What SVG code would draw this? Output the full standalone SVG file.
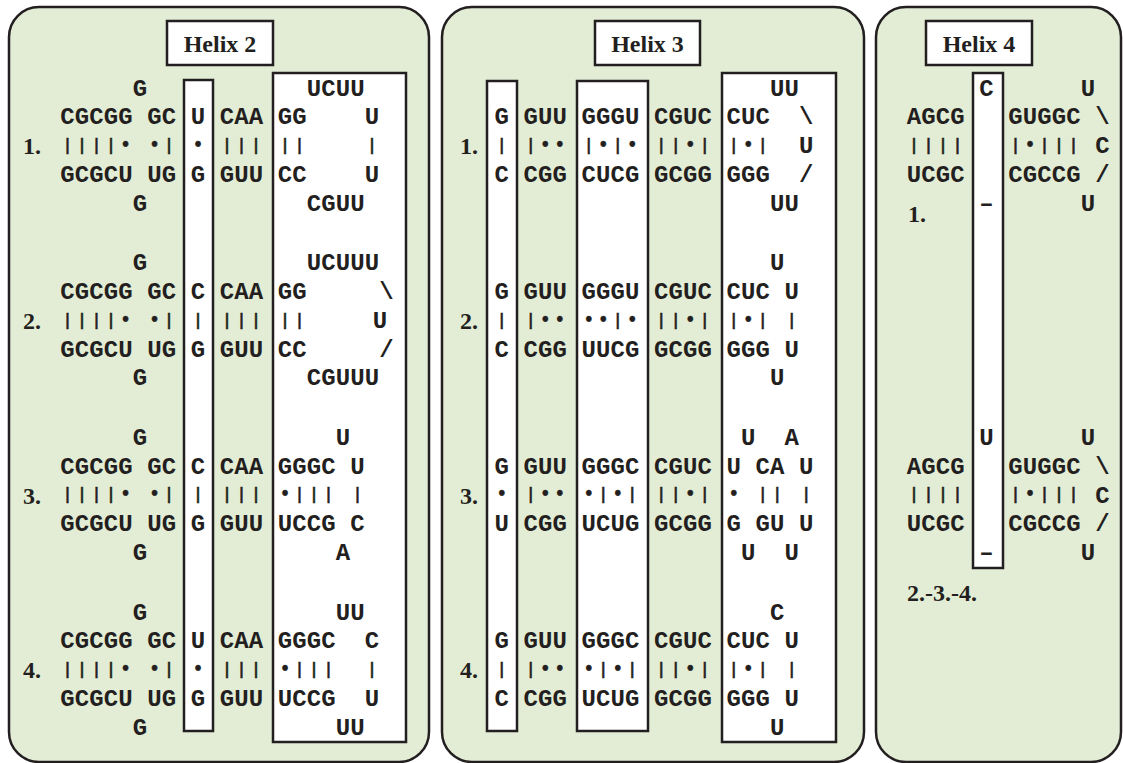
<svg xmlns="http://www.w3.org/2000/svg" width="1123" height="763" viewBox="0 0 1123 763">
<style>
.panel{fill:#e3edd5;stroke:#231f20;stroke-width:2.5}
.box{fill:#fff;stroke:#231f20;stroke-width:2.5}
.t{font-family:"Liberation Mono","DejaVu Sans Mono",monospace;font-weight:bold;font-size:24px;letter-spacing:0.1px;fill:#231f20}
.p{font-family:"DejaVu Sans","Liberation Sans",sans-serif;font-weight:bold;font-size:15px;text-anchor:middle;fill:#231f20;stroke:#231f20;stroke-width:0.5}
.s{font-family:"Liberation Serif","Times New Roman",serif;font-weight:bold;font-size:24px;fill:#231f20}
.h{text-anchor:middle}
</style>
<rect width="1123" height="763" fill="#fff"/>
<g id="connectors"/>

<g id="panel-helix2">
<rect class="panel" x="9" y="7" width="420" height="755" rx="30"/>
<rect class="box" x="167" y="21" width="106" height="44"/>
<text class="s h" x="220" y="52">Helix 2</text>
<rect class="box" x="184" y="80" width="29" height="651"/>
<rect class="box" x="273" y="73" width="133" height="669"/>
<g id="h2-b1">
<text class="t" x="132.75" y="95.5">G</text><text class="t" x="306.75" y="95.5">UCUU</text>
<text class="t" x="60.25" y="124.3">CGCGG</text><text class="t" x="147.25" y="124.3">GC</text><text class="t" x="190.75" y="124.3">U</text><text class="t" x="219.75" y="124.3">CAA</text><text class="t" x="277.75" y="124.3">GG</text><text class="t" x="364.75" y="124.3">U</text>
<text class="s" x="23" y="154.1">1.</text>
<text class="p" x="67.5 82 96.5 111 125.5 154.5 169 198 227 241.5 256 285 299.5 372" y="149.9">||||••|•||||||</text>
<text class="t" x="60.25" y="181.9">GCGCU</text><text class="t" x="147.25" y="181.9">UG</text><text class="t" x="190.75" y="181.9">G</text><text class="t" x="219.75" y="181.9">GUU</text><text class="t" x="277.75" y="181.9">CC</text><text class="t" x="364.75" y="181.9">U</text>
<text class="t" x="132.75" y="210.7">G</text><text class="t" x="306.75" y="210.7">CGUU</text>
</g>
<g id="h2-b2">
<text class="t" x="132.75" y="270.2">G</text><text class="t" x="306.75" y="270.2">UCUUU</text>
<text class="t" x="60.25" y="299">CGCGG</text><text class="t" x="147.25" y="299">GC</text><text class="t" x="190.75" y="299">C</text><text class="t" x="219.75" y="299">CAA</text><text class="t" x="277.75" y="299">GG</text><text class="t" x="379.25" y="299">\</text>
<text class="s" x="23" y="328.8">2.</text>
<text class="p" x="67.5 82 96.5 111 125.5 154.5 169 198 227 241.5 256 285 299.5" y="324.6">||||••|||||||</text>
<text class="t h" x="380" y="327.8">U</text>
<text class="t" x="60.25" y="356.6">GCGCU</text><text class="t" x="147.25" y="356.6">UG</text><text class="t" x="190.75" y="356.6">G</text><text class="t" x="219.75" y="356.6">GUU</text><text class="t" x="277.75" y="356.6">CC</text><text class="t" x="379.25" y="356.6">/</text>
<text class="t" x="132.75" y="385.4">G</text><text class="t" x="306.75" y="385.4">CGUUU</text>
</g>
<g id="h2-b3">
<text class="t" x="132.75" y="444.9">G</text><text class="t" x="335.75" y="444.9">U</text>
<text class="t" x="60.25" y="473.7">CGCGG</text><text class="t" x="147.25" y="473.7">GC</text><text class="t" x="190.75" y="473.7">C</text><text class="t" x="219.75" y="473.7">CAA</text><text class="t" x="277.75" y="473.7">GGGC</text><text class="t" x="350.25" y="473.7">U</text>
<text class="s" x="23" y="503.5">3.</text>
<text class="p" x="67.5 82 96.5 111 125.5 154.5 169 198 227 241.5 256 285 299.5 314 328.5 357.5" y="499.3">||||••|||||•||||</text>
<text class="t" x="60.25" y="531.3">GCGCU</text><text class="t" x="147.25" y="531.3">UG</text><text class="t" x="190.75" y="531.3">G</text><text class="t" x="219.75" y="531.3">GUU</text><text class="t" x="277.75" y="531.3">UCCG</text><text class="t" x="350.25" y="531.3">C</text>
<text class="t" x="132.75" y="560.1">G</text><text class="t" x="335.75" y="560.1">A</text>
</g>
<g id="h2-b4">
<text class="t" x="132.75" y="619.6">G</text><text class="t" x="335.75" y="619.6">UU</text>
<text class="t" x="60.25" y="648.4">CGCGG</text><text class="t" x="147.25" y="648.4">GC</text><text class="t" x="190.75" y="648.4">U</text><text class="t" x="219.75" y="648.4">CAA</text><text class="t" x="277.75" y="648.4">GGGC</text><text class="t" x="364.75" y="648.4">C</text>
<text class="s" x="23" y="678.2">4.</text>
<text class="p" x="67.5 82 96.5 111 125.5 154.5 169 198 227 241.5 256 285 299.5 314 328.5 372" y="674">||||••|•|||•||||</text>
<text class="t" x="60.25" y="706">GCGCU</text><text class="t" x="147.25" y="706">UG</text><text class="t" x="190.75" y="706">G</text><text class="t" x="219.75" y="706">GUU</text><text class="t" x="277.75" y="706">UCCG</text><text class="t" x="364.75" y="706">U</text>
<text class="t" x="132.75" y="734.8">G</text><text class="t" x="335.75" y="734.8">UU</text>
</g>
</g>

<g id="panel-helix3">
<rect class="panel" x="442" y="7" width="422" height="755" rx="30"/>
<rect class="box" x="595" y="21" width="105" height="44"/>
<text class="s h" x="647.5" y="52">Helix 3</text>
<rect class="box" x="487" y="81" width="30" height="650"/>
<rect class="box" x="577" y="81" width="71" height="650"/>
<rect class="box" x="722" y="73" width="114" height="669"/>
<g id="h3-b1">
<text class="t" x="769.95" y="95.5">UU</text>
<text class="t" x="494.45" y="124.3">G</text><text class="t" x="523.45" y="124.3">GUU</text><text class="t" x="581.45" y="124.3">GGGU</text><text class="t" x="653.95" y="124.3">CGUC</text><text class="t" x="726.45" y="124.3">CUC</text><text class="t" x="798.95" y="124.3">\</text>
<text class="s" x="460" y="154.1">1.</text>
<text class="p" x="501.7 530.7 545.2 559.7 588.7 603.2 617.7 632.2 661.2 675.7 690.2 704.7 733.7 748.2 762.7" y="149.9">||••|•|•||•||•|</text>
<text class="t" x="798.95" y="153.1">U</text>
<text class="t" x="494.45" y="181.9">C</text><text class="t" x="523.45" y="181.9">CGG</text><text class="t" x="581.45" y="181.9">CUCG</text><text class="t" x="653.95" y="181.9">GCGG</text><text class="t" x="726.45" y="181.9">GGG</text><text class="t" x="798.95" y="181.9">/</text>
<text class="t" x="769.95" y="210.7">UU</text>
</g>
<g id="h3-b2">
<text class="t" x="769.95" y="270.2">U</text>
<text class="t" x="494.45" y="299">G</text><text class="t" x="523.45" y="299">GUU</text><text class="t" x="581.45" y="299">GGGU</text><text class="t" x="653.95" y="299">CGUC</text><text class="t" x="726.45" y="299">CUC</text><text class="t" x="784.45" y="299">U</text>
<text class="s" x="460" y="328.8">2.</text>
<text class="p" x="501.7 530.7 545.2 559.7 588.7 603.2 617.7 632.2 661.2 675.7 690.2 704.7 733.7 748.2 762.7 791.7" y="324.6">||••••|•||•||•||</text>
<text class="t" x="494.45" y="356.6">C</text><text class="t" x="523.45" y="356.6">CGG</text><text class="t" x="581.45" y="356.6">UUCG</text><text class="t" x="653.95" y="356.6">GCGG</text><text class="t" x="726.45" y="356.6">GGG</text><text class="t" x="784.45" y="356.6">U</text>
<text class="t" x="769.95" y="385.4">U</text>
</g>
<g id="h3-b3">
<text class="t" x="740.95" y="444.9">U</text><text class="t" x="784.45" y="444.9">A</text>
<text class="t" x="494.45" y="473.7">G</text><text class="t" x="523.45" y="473.7">GUU</text><text class="t" x="581.45" y="473.7">GGGC</text><text class="t" x="653.95" y="473.7">CGUC</text><text class="t" x="726.45" y="473.7">U</text><text class="t" x="755.45" y="473.7">CA</text><text class="t" x="798.95" y="473.7">U</text>
<text class="s" x="460" y="503.5">3.</text>
<text class="p" x="501.7 530.7 545.2 559.7 588.7 603.2 617.7 632.2 661.2 675.7 690.2 704.7 733.7 762.7 777.2 806.2" y="499.3">•|•••|•|||•|•|||</text>
<text class="t" x="494.45" y="531.3">U</text><text class="t" x="523.45" y="531.3">CGG</text><text class="t" x="581.45" y="531.3">UCUG</text><text class="t" x="653.95" y="531.3">GCGG</text><text class="t" x="726.45" y="531.3">G</text><text class="t" x="755.45" y="531.3">GU</text><text class="t" x="798.95" y="531.3">U</text>
<text class="t" x="740.95" y="560.1">U</text><text class="t" x="784.45" y="560.1">U</text>
</g>
<g id="h3-b4">
<text class="t" x="769.95" y="619.6">C</text>
<text class="t" x="494.45" y="648.4">G</text><text class="t" x="523.45" y="648.4">GUU</text><text class="t" x="581.45" y="648.4">GGGC</text><text class="t" x="653.95" y="648.4">CGUC</text><text class="t" x="726.45" y="648.4">CUC</text><text class="t" x="784.45" y="648.4">U</text>
<text class="s" x="460" y="678.2">4.</text>
<text class="p" x="501.7 530.7 545.2 559.7 588.7 603.2 617.7 632.2 661.2 675.7 690.2 704.7 733.7 748.2 762.7 791.7" y="674">||•••|•|||•||•||</text>
<text class="t" x="494.45" y="706">C</text><text class="t" x="523.45" y="706">CGG</text><text class="t" x="581.45" y="706">UCUG</text><text class="t" x="653.95" y="706">GCGG</text><text class="t" x="726.45" y="706">GGG</text><text class="t" x="784.45" y="706">U</text>
<text class="t" x="769.95" y="734.8">U</text>
</g>
</g>

<g id="panel-helix4">
<rect class="panel" x="876" y="7" width="245" height="755" rx="30"/>
<rect class="box" x="926" y="21" width="106" height="44"/>
<text class="s h" x="979" y="52">Helix 4</text>
<rect class="box" x="973" y="73" width="30" height="495"/>
<g id="h4-b1">
<text class="t" x="979.25" y="95.5">C</text><text class="t" x="1080.75" y="95.5">U</text>
<text class="t" x="906.75" y="124.3">AGCG</text><text class="t" x="1008.25" y="124.3">GUGGC</text><text class="t" x="1095.25" y="124.3">\</text>
<text class="p" x="914 928.5 943 957.5 1015.5 1030 1044.5 1059 1073.5" y="149.9">|||||•|||</text>
<text class="t" x="1095.25" y="153.1">C</text>
<text class="t" x="906.75" y="181.9">UCGC</text><text class="t" x="1008.25" y="181.9">CGCCG</text><text class="t" x="1095.25" y="181.9">/</text>
<text class="t" x="979.25" y="210.7">–</text><text class="t" x="1080.75" y="210.7">U</text>
<text class="s" x="908" y="222">1.</text>
</g>
<g id="h4-b2">
<text class="t" x="979.25" y="444.9">U</text><text class="t" x="1080.75" y="444.9">U</text>
<text class="t" x="906.75" y="473.7">AGCG</text><text class="t" x="1008.25" y="473.7">GUGGC</text><text class="t" x="1095.25" y="473.7">\</text>
<text class="p" x="914 928.5 943 957.5 1015.5 1030 1044.5 1059 1073.5" y="499.3">|||||•|||</text>
<text class="t" x="1095.25" y="502.5">C</text>
<text class="t" x="906.75" y="531.3">UCGC</text><text class="t" x="1008.25" y="531.3">CGCCG</text><text class="t" x="1095.25" y="531.3">/</text>
<text class="t" x="979.25" y="560.1">–</text><text class="t" x="1080.75" y="560.1">U</text>
<text class="s" x="907" y="601">2.-3.-4.</text>
</g>
</g>
</svg>
